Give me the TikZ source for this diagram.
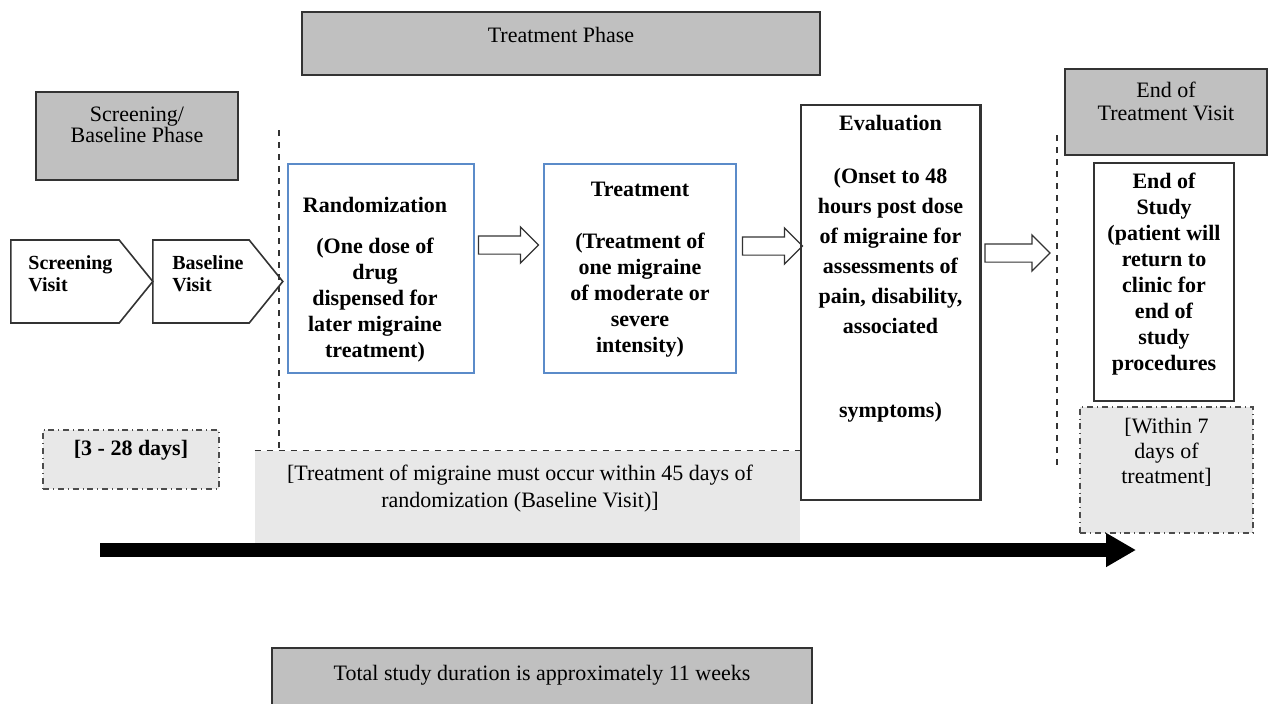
\documentclass[tikz,border=0pt]{standalone}
\usepackage{fontspec}
\setmainfont{Liberation Serif}
\usetikzlibrary{shapes.arrows,shapes.symbols,arrows.meta}
\definecolor{phasegray}{HTML}{C0C0C0}
\definecolor{notegray}{HTML}{E8E8E8}
\definecolor{randblue}{HTML}{5B8BC9}
\begin{document}
\begin{tikzpicture}[x=0.5pt,y=-0.5pt,font=\fontsize{11}{13}\selectfont] % схема исследования
\tikzstyle{phase} = [draw=black!80, fill=phasegray, line width=0.8pt, inner sep=0pt] % grey phase header
\tikzstyle{bluebox} = [draw=randblue, line width=1.1pt, inner sep=0pt] % blue step box
\tikzstyle{plainbox} = [draw=black!80, line width=0.8pt, inner sep=0pt] % black step box
\tikzstyle{note} = [fill=notegray, draw=black!70, dash dot, line width=0.6pt, inner sep=0pt] % duration note
\tikzstyle{visit} = [signal, signal to=east, signal pointer angle=102, draw=black!80, line width=0.8pt, inner sep=0pt, minimum height=41.5pt]
\tikzstyle{blockarrow} = [single arrow, draw=black!80, line width=0.6pt, inner xsep=0pt, inner ysep=4.25pt, single arrow head extend=4.5pt, single arrow head indent=0pt, minimum width=18pt]
\tikzstyle{txt} = [align=center, inner sep=0pt] % plain text
\tikzstyle{boldtxt} = [txt, font=\fontsize{11}{13}\selectfont\bfseries] % bold text
\tikzstyle{sep} = [dashed, line width=0.6pt, black!80] % vertical separator

\useasboundingbox (0,0) rectangle (1272,703);

% заголовки фаз
\node[phase, minimum width=259pt, minimum height=31.5pt] (phT) at (561,43.5) {};
\node[txt] (phTtxt) at (561,35) {Treatment Phase};
\node[phase, minimum width=101pt, minimum height=44pt] (phS) at (137,136) {};
\node[txt, font=\fontsize{11}{10.5}\selectfont] (phStxt) at (137,125) {Screening/\\Baseline Phase};
\node[phase, minimum width=101pt, minimum height=43pt] (phE) at (1166,112) {};
\node[txt, font=\fontsize{11}{11.5}\selectfont] (phEtxt) at (1166,101.5) {End of\\Treatment Visit};

% визиты
\node[visit, minimum width=71pt] (scrV) at (65,281.5) {};
\node[boldtxt, align=left, anchor=west, font=\fontsize{10}{11}\selectfont\bfseries] (scrVtxt) at (28,274) {Screening\\Visit};
\node[visit, minimum width=65pt] (basV) at (201,281.5) {};
\node[boldtxt, align=left, anchor=west, font=\fontsize{10}{11}\selectfont\bfseries] (basVtxt) at (172,274) {Baseline\\Visit};

% separators
\coordinate (s1a) at (279,130); \coordinate (s1b) at (279,450);
\draw[sep] (s1a) -- (s1b);
\coordinate (s2a) at (1057,135); \coordinate (s2b) at (1057,465);
\draw[sep] (s2a) -- (s2b);

% шаги
\node[bluebox, minimum width=93pt, minimum height=104.5pt] (rand) at (381,268.5) {};
\node[boldtxt] (randtxt) at (375,280) {Randomization\\[7.5pt](One dose of\\drug\\dispensed for\\later migraine\\treatment)};
\node[bluebox, minimum width=96pt, minimum height=104.5pt] (treat) at (640,268.5) {};
\node[boldtxt] (treattxt) at (640,269.5) {Treatment\\[13pt](Treatment of\\one migraine\\of moderate or\\severe\\intensity)};
\node[plainbox, minimum width=89.5pt, minimum height=197.5pt] (eval) at (890.5,302.5) {};
\node[boldtxt, font=\fontsize{11}{15}\selectfont\bfseries] (evaltxt) at (890.5,269) {Evaluation\\[11.5pt](Onset to 48\\hours post dose\\of migraine for\\assessments of\\pain, disability,\\associated\\[27pt]symptoms)};
\node[plainbox, minimum width=70pt, minimum height=119pt] (eos) at (1164,282) {};
\node[boldtxt] (eostxt) at (1164,274) {End of\\Study\\(patient will\\return to\\clinic for\\end of\\study\\procedures};

% стрелки между шагами
\node[blockarrow, minimum height=30pt] (a1) at (504,245) {};
\node[blockarrow, minimum height=30pt] (a2) at (768,246) {};
\node[blockarrow, minimum height=32.5pt] (a3) at (1013,253) {};

% сроки
\node[note, minimum width=88pt, minimum height=29.5pt] (days) at (131,459.5) {};
\node[boldtxt] (daystxt) at (131,450) {[3 - 28 days]};
\node[note, minimum width=86.5pt, minimum height=63pt] (within) at (1166.5,470) {};
\node[txt, font=\fontsize{11}{12.5}\selectfont] (withintxt) at (1166.5,452) {[Within 7\\days of\\treatment]};
\node[fill=notegray, inner sep=0pt, minimum width=272.5pt, minimum height=46pt] (win45) at (527.5,497) {};
\draw[dashed, line width=0.7pt, black!80] (win45.north west) -- (win45.north east);
\draw[dashed, line width=0.7pt, black!80] (win45.south west) -- (win45.south east);
\node[txt, font=\fontsize{11}{13.5}\selectfont] (win45txt) at (520,488.5) {[Treatment of migraine must occur within 45 days of\\randomization (Baseline Visit)]};
\draw[plainbox] (eval.north east) -- (eval.south east); % eval box over the note

% ось времени
\coordinate (tl0) at (100,550); \coordinate (tl1) at (1136,550);
\draw[line width=7pt, -{Triangle[length=15pt,width=16pt]}] (tl0) -- (tl1);

\node[phase, minimum width=270pt, minimum height=35pt] (total) at (542,683) {};
\node[txt] (totaltxt) at (542,675) {Total study duration is approximately 11 weeks};
\end{tikzpicture}
\end{document}
